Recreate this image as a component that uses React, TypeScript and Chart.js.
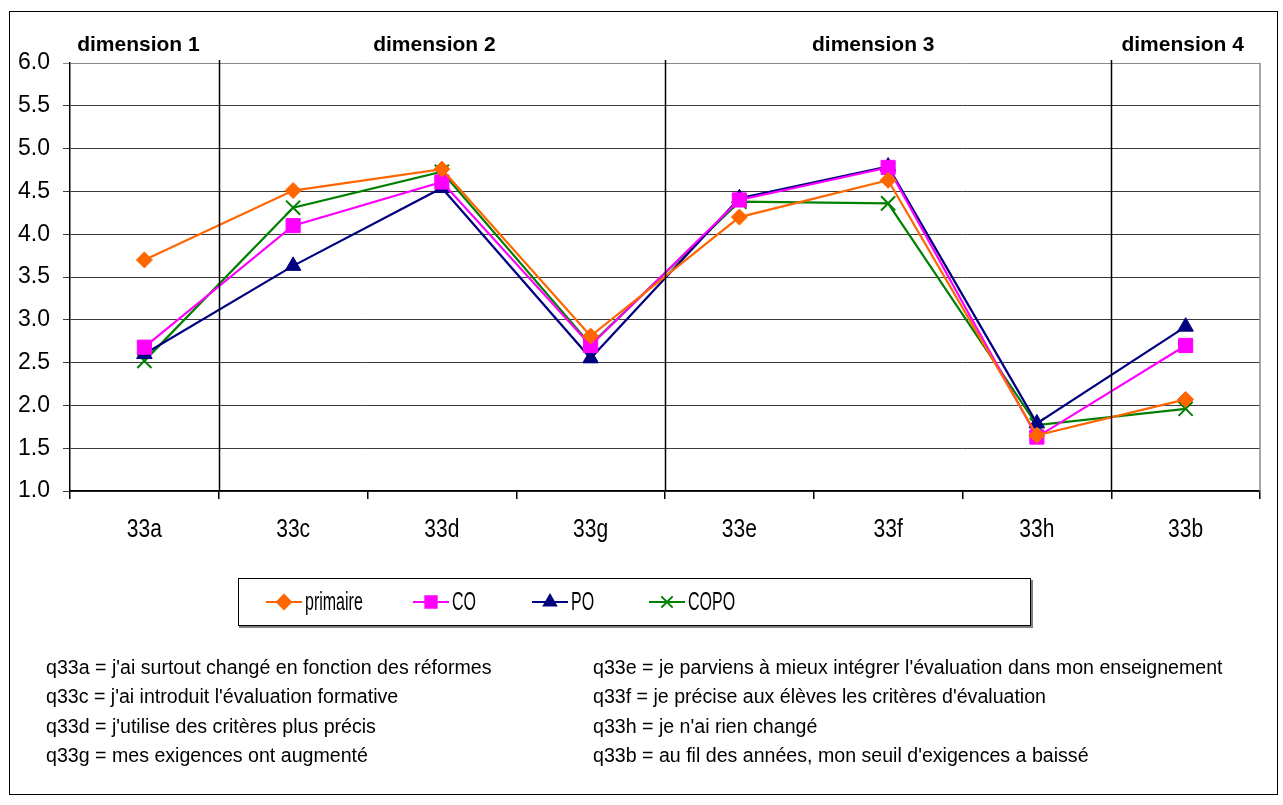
import React, { useEffect, useRef } from 'react';
import { Chart, registerables } from 'chart.js';
import { drawPoint } from 'chart.js/helpers';

Chart.register(...registerables);

const categories = ['33a', '33c', '33d', '33g', '33e', '33f', '33h', '33b'];
const primaire = [3.7, 4.51, 4.76, 2.81, 4.2, 4.63, 1.65, 2.07];
const co = [2.68, 4.1, 4.61, 2.7, 4.4, 4.78, 1.63, 2.7];
const po = [2.6, 3.63, 4.54, 2.55, 4.42, 4.79, 1.79, 2.92];
const copo = [2.52, 4.31, 4.73, 2.71, 4.38, 4.36, 1.77, 1.96];
const dimensionLabels = ['dimension 1', 'dimension 2', 'dimension 3', 'dimension 4'];
const dimensionBoundaries = [0.5, 3.5, 6.5];
const notesLeft = [
  'q33a = j\'ai surtout changé en fonction des réformes',
  'q33c = j\'ai introduit l\'évaluation formative',
  'q33d = j\'utilise des critères plus précis',
  'q33g = mes exigences ont augmenté',
];
const notesRight = [
  'q33e = je parviens à mieux intégrer l\'évaluation dans mon enseignement',
  'q33f = je précise aux élèves les critères d\'évaluation',
  'q33h = je n\'ai rien changé',
  'q33b = au fil des années, mon seuil d\'exigences a baissé',
];

const FONT = "'Liberation Sans', Arial, sans-serif";

const series = [
  { label: 'primaire', data: primaire, color: '#FF6600', style: 'rectRot', r: 8, lr: 7 },
  { label: 'CO', data: co, color: '#FF00FF', style: 'rect', r: 10, lr: 8 },
  { label: 'PO', data: po, color: '#000080', style: 'triangle', r: 9, lr: 7 },
  { label: 'COPO', data: copo, color: '#008000', style: 'crossRot', r: 10, lr: 8 },
];

function condensedText(ctx: CanvasRenderingContext2D, text: string, x: number, y: number, sx: number, align: 'left' | 'center') {
  ctx.save();
  ctx.translate(x, y);
  ctx.scale(sx, 1);
  ctx.textAlign = align;
  ctx.fillText(text, 0, 0);
  ctx.restore();
}

const overlay = {
  id: 'overlay',
  afterDraw(chart: any) {
    const { ctx, chartArea } = chart;
    const x = chart.scales.x;
    ctx.save();
    // outer frame
    ctx.strokeStyle = '#000';
    ctx.lineWidth = 1;
    ctx.strokeRect(9.5, 11.5, 1268, 783);
    // right border of plot
    ctx.strokeStyle = '#8a8a8a';
    ctx.lineWidth = 1.5;
    ctx.beginPath();
    ctx.moveTo(chartArea.right, chartArea.top);
    ctx.lineTo(chartArea.right, chartArea.bottom);
    ctx.stroke();
    // dimension separators
    ctx.strokeStyle = '#000';
    ctx.lineWidth = 1.5;
    dimensionBoundaries.forEach((b) => {
      const px = Math.round(x.getPixelForValue(b)) + 0.5;
      ctx.beginPath();
      ctx.moveTo(px, chartArea.top - 3);
      ctx.lineTo(px, chartArea.bottom);
      ctx.stroke();
    });
    // category labels
    ctx.fillStyle = '#000';
    ctx.font = `25px ${FONT}`;
    ctx.textBaseline = 'middle';
    categories.forEach((c, i) => {
      condensedText(ctx, c, x.getPixelForValue(i), 530, 0.84, 'center');
    });
    // dimension labels
    const anchors = [-0.04, 1.95, 4.9, 6.98];
    ctx.font = `bold 21px ${FONT}`;
    ctx.textAlign = 'center';
    dimensionLabels.forEach((t, i) => {
      ctx.fillText(t, x.getPixelForValue(anchors[i]), 45);
    });
    // legend box
    ctx.fillStyle = '#fff';
    ctx.fillRect(238, 578, 792, 47);
    ctx.strokeStyle = '#000';
    ctx.lineWidth = 1;
    ctx.strokeRect(238.5, 578.5, 792, 47);
    ctx.strokeStyle = '#808080';
    ctx.lineWidth = 2;
    ctx.beginPath();
    ctx.moveTo(239, 627);
    ctx.lineTo(1032, 627);
    ctx.lineTo(1032, 580);
    ctx.stroke();
    const starts = [266, 413, 532, 649];
    const cy = 602;
    ctx.font = `25px ${FONT}`;
    series.forEach((s, i) => {
      const sx = starts[i];
      ctx.strokeStyle = s.color;
      ctx.fillStyle = s.color;
      ctx.lineWidth = 2;
      ctx.beginPath();
      ctx.moveTo(sx, cy);
      ctx.lineTo(sx + 36, cy);
      ctx.stroke();
      drawPoint(ctx, { pointStyle: s.style, radius: s.lr, rotation: 0, borderWidth: 2 }, sx + 18, cy);
      ctx.fillStyle = '#000';
      condensedText(ctx, s.label, sx + 39, cy + 1, 0.64, 'left');
    });
    ctx.restore();
  },
};

export default function App() {
  const ref = useRef<HTMLCanvasElement>(null);
  useEffect(() => {
    const chart = new Chart(ref.current as HTMLCanvasElement, {
      type: 'line',
      data: {
        labels: categories,
        datasets: series.map((s) => ({
          label: s.label,
          data: s.data,
          borderColor: s.color,
          backgroundColor: s.color,
          borderWidth: 2.2,
          pointStyle: s.style as any,
          pointRadius: s.r,
          pointBorderWidth: s.style === 'crossRot' ? 2 : 1,
          pointBorderColor: s.color,
          pointBackgroundColor: s.color,
          tension: 0,
        })),
      },
      options: {
        animation: false,
        responsive: false,
        maintainAspectRatio: false,
        layout: { padding: { left: 0, top: 63, right: 23, bottom: 264 } },
        plugins: { legend: { display: false }, tooltip: { enabled: false } },
        scales: {
          x: {
            offset: true,
            grid: { offset: true, drawOnChartArea: false, drawTicks: true, tickLength: 8, color: '#000', lineWidth: 1.5 },
            border: { color: '#000', width: 1.5 },
            ticks: { display: false },
            afterFit: (s: any) => { s.height = 50; },
          },
          y: {
            min: 1,
            max: 6,
            grid: {
              color: (c: any) => (c.tick && c.tick.value === 6 ? '#8a8a8a' : '#3a3a3a'),
              lineWidth: 1,
              tickLength: 7,
              drawTicks: true,
            },
            border: { color: '#000', width: 1.5 },
            ticks: {
              stepSize: 0.5,
              color: '#000',
              font: { family: FONT, size: 23 },
              padding: 13,
              callback: (v: any) => Number(v).toFixed(1),
            },
            afterFit: (s: any) => { s.width = 70; },
          },
        },
      },
      plugins: [overlay],
    });
    return () => chart.destroy();
  }, []);

  const noteStyle: React.CSSProperties = {
    position: 'absolute',
    fontFamily: FONT,
    fontSize: 19.6,
    lineHeight: '29.3px',
    color: '#000',
    whiteSpace: 'nowrap',
  };

  return (
    <div style={{ position: 'absolute', left: 0, top: 0, width: 1283, height: 805, background: '#fff' }}>
      <canvas ref={ref} width={1283} height={805} style={{ position: 'absolute', left: 0, top: 0 }} />
      <div style={{ ...noteStyle, left: 46, top: 653 }}>
        {notesLeft.map((t) => (<div key={t}>{t}</div>))}
      </div>
      <div style={{ ...noteStyle, left: 593, top: 653 }}>
        {notesRight.map((t) => (<div key={t}>{t}</div>))}
      </div>
    </div>
  );
}
